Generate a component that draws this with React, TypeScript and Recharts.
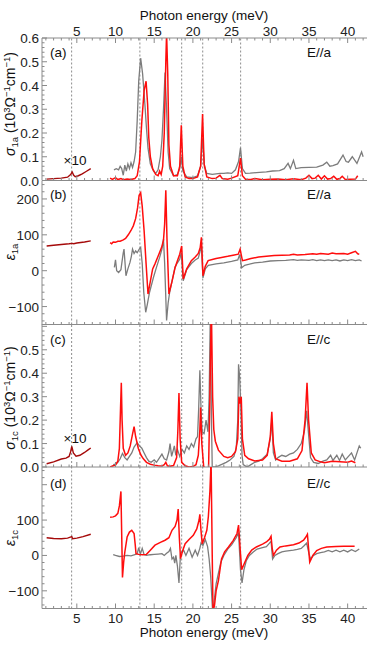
import { LineChart, Line, XAxis, YAxis, ReferenceLine } from "recharts";

type Pt = [number, number];

// photon energy axis (meV)
const energyTicks = Array.from({ length: 42 }, (_, i) => i + 1);
const phononLines = [4.33, 13.15, 18.55, 21.27, 26.17];

// (a) sigma_1a
const sigAlow: Pt[] = [[1.1,0.006],[2.0,0.008],[3.0,0.01],[3.8,0.014],[4.2,0.025],[4.4,0.036],[4.6,0.022],[4.8,0.016],[5.2,0.02],[5.7,0.028],[6.2,0.038],[6.8,0.05]];
const sigAgray: Pt[] = [[9.8,0.045],[10.1,0.05],[10.4,0.045],[10.6,0.06],[10.8,0.05],[11.0,0.022],[11.2,0.065],[11.4,0.04],[11.6,0.07],[11.8,0.05],[12.0,0.075],[12.2,0.055],[12.4,0.08],[12.6,0.12],[12.8,0.25],[13.0,0.42],[13.25,0.515],[13.5,0.45],[13.8,0.32],[14.0,0.22],[14.2,0.136],[14.5,0.07],[14.9,0.04],[15.2,0.03],[15.5,0.045],[15.8,0.1],[16.0,0.17],[16.2,0.3],[16.4,0.455],[16.6,0.3],[16.8,0.12],[17.0,0.05],[17.5,0.02],[18.0,0.025],[18.3,0.05],[18.5,0.1],[18.7,0.04],[19.2,0.015],[20.0,0.012],[20.6,0.02],[21.0,0.06],[21.25,0.177],[21.5,0.06],[21.8,0.03],[22.5,0.026],[23.0,0.028],[23.5,0.03],[24.0,0.03],[24.5,0.032],[25.0,0.03],[25.5,0.045],[25.9,0.08],[26.15,0.138],[26.4,0.05],[26.8,0.03],[27.4,0.031],[28.2,0.033],[29.5,0.036],[30.3,0.04],[31.2,0.042],[31.8,0.05],[32.3,0.072],[32.6,0.05],[33.0,0.085],[33.3,0.05],[34.0,0.054],[35.0,0.055],[36.0,0.056],[36.8,0.065],[37.3,0.077],[37.7,0.06],[38.1,0.063],[38.7,0.07],[39.4,0.107],[39.8,0.08],[40.1,0.077],[40.6,0.1],[41.2,0.072],[41.8,0.12],[42.0,0.1]];
const sigAred: Pt[] = [[9.3,0.01],[9.6,0.005],[10.0,0.012],[10.3,0.004],[10.7,0.008],[11.0,0.003],[11.5,0.006],[12.0,0.004],[12.5,0.008],[12.8,0.02],[13.1,0.08],[13.4,0.25],[13.7,0.38],[13.95,0.418],[14.15,0.32],[14.3,0.18],[14.5,0.1],[14.8,0.05],[15.2,0.025],[15.5,0.02],[15.7,0.04],[15.9,0.025],[16.1,0.06],[16.3,0.2],[16.5,0.5],[16.6,0.62],[16.75,0.45],[16.9,0.15],[17.1,0.06],[17.5,0.02],[18.0,0.02],[18.3,0.06],[18.5,0.232],[18.7,0.06],[19.0,0.015],[19.5,0.008],[20.0,0.008],[20.6,0.015],[21.0,0.06],[21.25,0.28],[21.45,0.07],[21.8,0.015],[22.5,0.008],[23.0,0.01],[23.5,0.022],[23.8,0.008],[24.5,0.005],[25.0,0.01],[25.8,0.02],[26.15,0.094],[26.4,0.02],[26.8,0.005],[27.5,0.004],[28.0,0.008],[29.0,0.003],[30.0,0.005],[31.0,0.006],[32.0,0.003],[33.0,0.007],[34.0,0.003],[34.6,0.01],[35.0,0.022],[35.4,0.008],[35.8,0.01],[36.2,0.022],[36.6,0.006],[37.0,0.02],[37.4,0.006],[37.8,0.008],[38.2,0.018],[38.6,0.005],[39.0,0.008],[39.3,0.018],[39.7,0.004],[40.3,0.005],[41.0,0.006],[41.3,0.02]];

// (b) epsilon_1a
const epsAlow: Pt[] = [[1.1,69],[2,71],[3,73],[4,75],[4.4,76],[4.6,75],[5,77],[6,80],[6.8,83]];
const epsAgray: Pt[] = [[9.85,9],[10.0,30],[10.15,0],[10.4,-5],[10.7,3],[11.0,50],[11.1,60],[11.35,-14],[11.6,5],[11.87,23],[12.05,40],[12.2,60],[12.4,48],[12.6,55],[12.8,50],[13.07,60],[13.25,65],[13.45,20],[13.65,-60],[13.9,-116],[14.1,-95],[14.4,-60],[14.9,-19],[15.3,10],[15.7,37],[16.0,60],[16.2,88],[16.35,20],[16.6,-139],[16.8,-90],[17.0,-60],[17.4,-20],[17.7,10],[18.0,22],[18.3,32],[18.5,50],[18.75,-28],[19.2,3],[19.8,20],[20.3,30],[20.7,35],[21.0,60],[21.1,70],[21.3,-20],[21.6,5],[22.0,15],[23.0,19],[24.0,22],[25.0,26],[25.8,30],[26.05,45],[26.3,8],[26.7,15],[27.3,18],[28.0,22],[29.0,24],[30.0,27],[31.0,28],[32.0,29],[33.0,31],[33.5,29],[34.0,30],[35.0,29],[35.5,31],[36.0,28],[36.5,30],[37.0,28],[37.5,30],[38.0,28],[38.5,30],[39.0,27],[39.5,30],[40.0,28],[40.5,31],[41.0,28],[41.5,30],[41.8,27]];
const epsAred: Pt[] = [[9.3,78],[9.5,75],[9.7,80],[10.0,79],[10.3,82],[10.6,82],[11.0,86],[11.3,90],[11.65,100],[12.0,112],[12.3,125],[12.6,145],[12.85,175],[13.05,210],[13.25,217],[13.45,180],[13.7,110],[13.95,20],[14.2,-65],[14.5,-30],[14.8,5],[15.1,19],[15.5,40],[15.96,65],[16.2,85],[16.35,130],[16.5,224],[16.65,90],[16.9,-65],[17.3,-30],[17.7,9],[18.0,28],[18.3,46],[18.55,69],[18.75,-23],[19.2,5],[19.8,28],[20.3,38],[20.7,48],[20.95,65],[21.1,93],[21.3,-14],[21.6,12],[21.97,28],[22.5,31],[23.0,34],[23.7,37],[24.5,40],[25.2,43],[25.86,46],[26.1,60],[26.4,28],[26.8,30],[27.5,34],[28.5,38],[29.5,40],[30.5,42],[31.5,43],[32.5,44],[33.0,46],[33.5,44],[34.5,45],[35.5,47],[36.0,46],[36.5,48],[37.5,46],[38.0,49],[38.5,47],[39.5,48],[40.0,46],[40.5,50],[41.0,54],[41.3,47],[41.5,46]];

// (c) sigma_1c
const sigClow: Pt[] = [[1.1,0.014],[2.0,0.022],[3.0,0.034],[3.6,0.038],[4.0,0.045],[4.2,0.065],[4.35,0.088],[4.55,0.06],[4.9,0.046],[5.4,0.05],[6.0,0.062],[6.5,0.074],[6.8,0.081]];
const sigCgray: Pt[] = [[9.7,0.01],[10.0,0.012],[10.3,0.02],[10.6,0.035],[10.9,0.058],[11.2,0.04],[11.5,0.03],[11.8,0.045],[12.1,0.06],[12.4,0.085],[12.8,0.104],[13.1,0.09],[13.4,0.08],[13.7,0.06],[14.0,0.04],[14.3,0.025],[14.6,0.02],[15.0,0.03],[15.3,0.02],[15.7,0.04],[16.0,0.055],[16.3,0.035],[16.6,0.03],[16.9,0.065],[17.05,0.1],[17.25,0.045],[17.45,0.07],[17.6,0.09],[17.8,0.05],[18.0,0.075],[18.3,0.045],[18.6,0.075],[18.9,0.06],[19.2,0.09],[19.5,0.075],[19.8,0.1],[20.1,0.085],[20.4,0.12],[20.6,0.13],[20.75,0.25],[20.9,0.413],[21.05,0.25],[21.2,0.15],[21.45,0.143],[21.7,0.2],[21.95,0.15],[22.1,0.3],[22.25,0.65],[22.4,0.2],[22.5,0.0],[22.8,0.0],[23.3,0.005],[23.8,0.012],[24.3,0.02],[24.8,0.03],[25.3,0.045],[25.6,0.08],[25.8,0.2],[25.9,0.438],[26.05,0.38],[26.2,0.25],[26.35,0.05],[26.5,0.01],[27.0,0.0],[27.5,0.01],[28.0,0.02],[28.5,0.025],[29.0,0.035],[29.6,0.055],[30.0,0.12],[30.2,0.2],[30.4,0.06],[30.7,0.03],[31.0,0.04],[31.5,0.05],[32.0,0.045],[32.5,0.055],[33.0,0.06],[33.5,0.075],[34.0,0.1],[34.4,0.15],[34.7,0.24],[35.0,0.12],[35.2,0.04],[35.6,0.02],[36.2,0.015],[36.8,0.025],[37.3,0.03],[37.8,0.05],[38.1,0.028],[38.6,0.05],[38.95,0.028],[39.3,0.055],[39.7,0.03],[40.5,0.06],[40.9,0.03],[41.5,0.09],[41.7,0.08]];
const sigCred: Pt[] = [[9.3,0.0],[9.7,0.005],[10.0,0.008],[10.3,0.025],[10.5,0.08],[10.65,0.25],[10.75,0.359],[10.85,0.2],[11.0,0.08],[11.3,0.05],[11.6,0.06],[11.9,0.09],[12.2,0.14],[12.4,0.172],[12.6,0.13],[12.95,0.079],[13.3,0.05],[13.6,0.035],[14.0,0.02],[14.5,0.012],[15.0,0.008],[15.5,0.005],[16.0,0.004],[16.3,0.01],[16.5,0.02],[16.7,0.005],[17.0,0.003],[17.5,0.006],[17.9,0.04],[18.05,0.15],[18.2,0.316],[18.35,0.12],[18.55,0.02],[19.0,0.005],[19.5,0.0],[20.0,0.002],[20.4,0.01],[20.7,0.05],[20.9,0.16],[21.0,0.254],[21.15,0.1],[21.4,0.0],[21.7,-0.005],[22.0,-0.05],[22.2,0.3],[22.38,0.7],[22.55,0.3],[22.7,0.16],[22.9,0.11],[23.3,0.072],[24.0,0.045],[24.5,0.04],[25.0,0.045],[25.5,0.065],[25.8,0.12],[25.95,0.3],[26.1,0.27],[26.25,0.3],[26.4,0.12],[26.7,0.05],[27.2,0.035],[28.0,0.026],[29.0,0.03],[29.6,0.05],[30.0,0.13],[30.2,0.236],[30.4,0.1],[30.7,0.035],[31.5,0.025],[32.5,0.025],[33.5,0.035],[34.1,0.07],[34.5,0.2],[34.75,0.359],[34.95,0.2],[35.3,0.06],[35.8,0.03],[36.5,0.022],[37.0,0.018],[38.0,0.024],[39.0,0.022],[40.0,0.02],[40.5,0.025],[41.0,0.018]];

// (d) epsilon_1c
const epsClow: Pt[] = [[1.1,50],[2.0,48],[3.0,47],[3.8,49],[4.35,53],[4.45,47],[5.0,49],[5.8,53],[6.8,60]];
const epsCgray: Pt[] = [[9.7,2],[10.0,0],[10.5,-3],[11.0,-2],[11.5,0],[12.0,-1],[12.5,2],[12.8,5],[13.0,22],[13.2,3],[13.45,20],[13.7,2],[14.0,0],[14.5,2],[15.0,3],[15.5,4],[16.0,5],[16.3,0],[16.6,6],[16.9,11],[17.1,20],[17.3,-10],[17.5,-5],[17.65,-22],[17.8,0],[18.0,-30],[18.2,-78],[18.4,5],[18.6,10],[18.8,15],[19.1,0],[19.5,20],[19.9,-5],[20.3,15],[20.6,0],[20.9,20],[21.05,35],[21.3,28],[21.6,45],[21.9,25],[22.1,-10],[22.3,-60],[22.55,-160],[22.8,-120],[23.0,-80],[23.3,-50],[23.6,-20],[24.0,0],[24.5,18],[25.0,30],[25.6,50],[25.9,65],[26.15,-40],[26.35,-78],[26.6,-40],[26.9,-15],[27.3,0],[27.8,10],[28.3,18],[29.0,22],[29.5,25],[29.9,35],[30.1,40],[30.3,-10],[30.6,0],[31.0,5],[31.5,10],[32.0,12],[33.0,15],[33.5,17],[34.0,20],[34.4,28],[34.7,35],[35.0,5],[35.2,-10],[35.6,0],[36.0,5],[36.5,8],[37.0,10],[37.5,14],[38.0,10],[38.5,15],[39.0,10],[39.5,15],[40.0,10],[40.5,16],[41.0,11],[41.5,18]];
const epsCred: Pt[] = [[9.3,108],[9.7,109],[10.0,112],[10.3,119],[10.5,140],[10.7,181],[10.8,60],[10.9,-62],[11.05,-20],[11.2,9],[11.5,52],[11.8,66],[12.1,71],[12.4,62],[12.55,30],[12.65,5],[13.0,3],[13.5,2],[14.0,3],[14.5,15],[15.1,29],[15.8,37],[16.4,43],[16.9,50],[17.3,71],[17.7,82],[17.95,100],[18.1,131],[18.25,50],[18.4,-9],[18.7,15],[19.0,33],[19.5,45],[20.05,57],[20.5,75],[20.8,100],[20.9,116],[21.05,70],[21.2,33],[21.5,50],[21.8,71],[22.0,110],[22.2,181],[22.35,270],[22.5,0],[22.6,-160],[22.8,-140],[23.0,-100],[23.3,-71],[23.7,-10],[24.1,10],[24.6,24],[25.2,42],[25.7,62],[25.9,86],[26.1,20],[26.3,-40],[26.6,-25],[27.1,0],[27.6,15],[28.2,24],[29.0,32],[29.5,38],[29.9,46],[30.1,54],[30.25,20],[30.4,0],[30.8,15],[31.25,24],[32.0,27],[33.0,30],[33.7,35],[34.3,43],[34.6,52],[34.8,60],[34.95,20],[35.1,-19],[35.5,0],[36.0,14],[36.6,20],[37.3,24],[38.5,25],[39.5,26],[40.5,26],[40.9,26]];

const RED = "#ff0d0d";
const GRAY = "#7c7c7c";
const DARK = "#a50a0a";
const FRAME = "#8a8a8a";
const FONT = "'Liberation Sans', Arial, sans-serif";

const steps = (a: number, b: number, s: number) => {
  const out: number[] = [];
  for (let v = a; v <= b + 1e-9; v += s) out.push(Math.round(v * 1000) / 1000);
  return out;
};
const rows = (pts: Pt[]) => pts.map(([x, y]) => ({ x, y }));
const isMult = (v: number, m: number) => Math.abs(v / m - Math.round(v / m)) < 1e-6;

const xTick = (side: "top" | "bottom", showLabels: boolean) => (props: any) => {
  const { x, y, payload } = props;
  const v = payload.value;
  const major = isMult(v, 5);
  const dir = side === "top" ? 1 : -1;
  return (
    <g>
      <line x1={x} x2={x} y1={y} y2={y + dir * (major ? 5 : 2.5)} stroke={FRAME} />
      {showLabels && major && (
        <text x={x} y={side === "top" ? y - 2 : y + 14} textAnchor="middle" fontSize={13.5} fill="#222" fontFamily={FONT}>
          {v}
        </text>
      )}
    </g>
  );
};

const yTick = (side: "left" | "right", majorStep: number, labels: number[], fmt: (v: number) => string) => (props: any) => {
  const { x, y, payload } = props;
  const v = payload.value;
  const major = isMult(v, majorStep);
  const dir = side === "left" ? 1 : -1;
  const show = side === "left" && labels.some((l) => Math.abs(l - v) < 1e-6);
  return (
    <g>
      <line x1={x} x2={x + dir * (major ? 5 : 2.5)} y1={y} y2={y} stroke={FRAME} />
      {show && (
        <text x={x - 3} y={y + 5} textAnchor="end" fontSize={13.5} fill="#222" fontFamily={FONT}>
          {fmt(v)}
        </text>
      )}
    </g>
  );
};

type PanelProps = {
  top: number;
  plotH: number;
  padTop: number;
  padBottom: number;
  domain: [number, number];
  yTicks: number[];
  majorStep: number;
  labels: number[];
  fmt: (v: number) => string;
  low: Pt[];
  gray: Pt[];
  red: Pt[];
  topLabels?: boolean;
  bottomLabels?: boolean;
};

function Panel(p: PanelProps) {
  return (
    <div style={{ position: "absolute", left: 0, top: p.top - p.padTop }}>
      <LineChart width={382} height={p.padTop + p.plotH + p.padBottom} margin={{ top: 0, right: 15, bottom: 0, left: 0 }}>
        <XAxis xAxisId="b" dataKey="x" type="number" domain={[0.5, 42.5]} allowDataOverflow ticks={energyTicks} interval={0}
          orientation="bottom" height={p.padBottom} tickSize={0} tickMargin={0} tickLine={false}
          axisLine={{ stroke: FRAME }} tick={xTick("bottom", !!p.bottomLabels)} />
        <XAxis xAxisId="t" dataKey="x" type="number" domain={[0.5, 42.5]} allowDataOverflow ticks={energyTicks} interval={0}
          orientation="top" height={p.padTop} tickSize={0} tickMargin={0} tickLine={false}
          axisLine={{ stroke: FRAME }} tick={xTick("top", !!p.topLabels)} />
        <YAxis yAxisId="l" type="number" domain={p.domain} allowDataOverflow ticks={p.yTicks} interval={0} width={42}
          tickSize={0} tickMargin={0} tickLine={false} axisLine={{ stroke: FRAME }}
          tick={yTick("left", p.majorStep, p.labels, p.fmt)} />
        <YAxis yAxisId="r" orientation="right" type="number" domain={p.domain} allowDataOverflow ticks={p.yTicks} interval={0} width={0}
          tickSize={0} tickMargin={0} tickLine={false} axisLine={{ stroke: FRAME }}
          tick={yTick("right", p.majorStep, [], p.fmt)} />
        {phononLines.map((m) => (
          <ReferenceLine key={m} x={m} xAxisId="b" yAxisId="l" stroke="#8c8c8c" strokeDasharray="2 2" />
        ))}
        <Line xAxisId="b" yAxisId="l" data={rows(p.gray)} dataKey="y" stroke={GRAY} strokeWidth={1.3} dot={false} isAnimationActive={false} type="linear" />
        <Line xAxisId="b" yAxisId="l" data={rows(p.red)} dataKey="y" stroke={RED} strokeWidth={1.5} dot={false} isAnimationActive={false} type="linear" />
        <Line xAxisId="b" yAxisId="l" data={rows(p.low)} dataKey="y" stroke={DARK} strokeWidth={1.4} dot={false} isAnimationActive={false} type="linear" />
      </LineChart>
    </div>
  );
}

const minus = (v: number) => (v < 0 ? "\u2212" + Math.abs(v) : String(v));
const sup = { fontSize: 9.5 };

function SigmaLabel({ cx, cy, sub }: { cx: number; cy: number; sub: string }) {
  return (
    <text transform={`translate(${cx},${cy}) rotate(-90)`} textAnchor="middle" fontSize={14} fontFamily={FONT} fill="#111">
      <tspan fontStyle="italic">σ</tspan>
      <tspan {...sup} dy={3}>{sub}</tspan>
      <tspan dy={-3}> (10</tspan>
      <tspan {...sup} dy={-5}>3</tspan>
      <tspan dy={5}>Ω</tspan>
      <tspan {...sup} dy={-5}>−1</tspan>
      <tspan dy={5}>cm</tspan>
      <tspan {...sup} dy={-5}>−1</tspan>
      <tspan dy={5}>)</tspan>
    </text>
  );
}

function EpsLabel({ cx, cy, sub }: { cx: number; cy: number; sub: string }) {
  return (
    <text transform={`translate(${cx},${cy}) rotate(-90)`} textAnchor="middle" fontSize={14} fontFamily={FONT} fill="#111">
      <tspan fontStyle="italic">ε</tspan>
      <tspan {...sup} dy={3}>{sub}</tspan>
    </text>
  );
}

export default function App() {
  const txt = { fontSize: 13.5, fontFamily: FONT, fill: "#111" };
  return (
    <div style={{ position: "absolute", left: 0, top: 0, width: 382, height: 648, background: "#fff" }}>
      <Panel top={38} plotH={142.5} padTop={38} padBottom={12} domain={[0, 0.6]} yTicks={steps(0, 0.6, 0.02)}
        majorStep={0.1} labels={[0, 0.1, 0.2, 0.3, 0.4, 0.5, 0.6]} fmt={(v) => v.toFixed(1)}
        low={sigAlow} gray={sigAgray} red={sigAred} topLabels />
      <Panel top={180.5} plotH={143.5} padTop={0} padBottom={12} domain={[-150, 250]} yTicks={steps(-140, 240, 20)}
        majorStep={100} labels={[-100, 0, 100, 200]} fmt={minus}
        low={epsAlow} gray={epsAgray} red={epsAred} />
      <Panel top={324} plotH={143} padTop={0} padBottom={12} domain={[0, 0.61]} yTicks={steps(0, 0.6, 0.02)}
        majorStep={0.1} labels={[0, 0.1, 0.2, 0.3, 0.4, 0.5]} fmt={(v) => v.toFixed(1)}
        low={sigClow} gray={sigCgray} red={sigCred} />
      <Panel top={467} plotH={141.5} padTop={0} padBottom={39.5} domain={[-150, 250]} yTicks={steps(-140, 240, 20)}
        majorStep={100} labels={[-100, 0, 100]} fmt={minus}
        low={epsClow} gray={epsCgray} red={epsCred} bottomLabels />
      <svg width={382} height={648} style={{ position: "absolute", left: 0, top: 0, pointerEvents: "none" }}>
        <text x={204} y={20} textAnchor="middle" {...txt}>Photon energy (meV)</text>
        <text x={204} y={637} textAnchor="middle" {...txt}>Photon energy (meV)</text>
        <SigmaLabel cx={15} cy={104} sub="1a" />
        <EpsLabel cx={15} cy={252} sub="1a" />
        <SigmaLabel cx={15} cy={398} sub="1c" />
        <EpsLabel cx={15} cy={538} sub="1c" />
        <text x={50} y={57} {...txt}>(a)</text>
        <text x={307} y={57} {...txt}>E//a</text>
        <text x={75} y={165} textAnchor="middle" {...txt}>×10</text>
        <text x={50} y={199} {...txt}>(b)</text>
        <text x={307} y={199} {...txt}>E//a</text>
        <text x={50} y={344} {...txt}>(c)</text>
        <text x={307} y={344} {...txt}>E//c</text>
        <text x={75} y={443} textAnchor="middle" {...txt}>×10</text>
        <text x={50} y={488} {...txt}>(d)</text>
        <text x={307} y={488} {...txt}>E//c</text>
      </svg>
    </div>
  );
}
